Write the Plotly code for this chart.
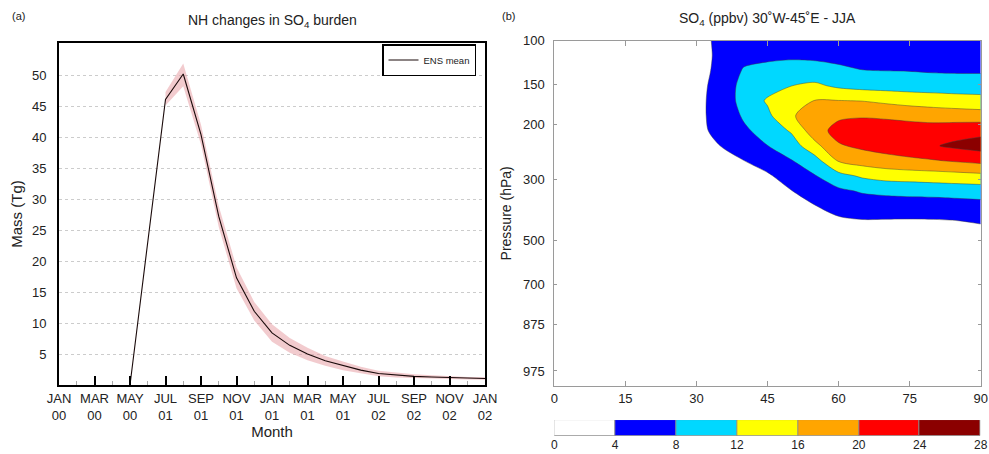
import numpy as np
import plotly.graph_objects as go

# ---------------- Panel (a): NH SO4 burden time series ----------------
# month index counted from JAN 00 (0) to JAN 02 (24)
months = [4, 5, 6, 7, 8, 9, 10, 11, 12, 13, 14, 15, 16, 17, 18, 19, 20, 21, 22, 23, 24]
ens_mean = [0.0, 23.0, 46.1, 50.2, 40.4, 27.2, 17.3, 11.9, 8.4, 6.4, 5.0, 3.9, 3.1,
            2.4, 1.85, 1.6, 1.4, 1.3, 1.2, 1.1, 1.05]
# ensemble envelope (min / max of members)
band_months = [6, 7, 8, 9, 10, 11, 12, 13, 14, 15, 16, 17, 18, 19, 20, 21, 22, 23, 24]
ens_max = [47.3, 51.9, 42.0, 28.9, 19.0, 13.4, 9.8, 7.6, 6.0, 4.7, 3.8, 2.95, 2.3,
           2.0, 1.72, 1.57, 1.42, 1.3, 1.25]
ens_min = [45.1, 48.2, 38.8, 25.5, 15.6, 10.4, 7.0, 5.2, 4.0, 3.1, 2.4, 1.85, 1.4,
           1.2, 1.08, 1.03, 0.98, 0.9, 0.85]

month_ticks = [0, 2, 4, 6, 8, 10, 12, 14, 16, 18, 20, 22, 24]
month_labels = ["JAN<br>00", "MAR<br>00", "MAY<br>00", "JUL<br>01", "SEP<br>01",
                "NOV<br>01", "JAN<br>01", "MAR<br>01", "MAY<br>01", "JUL<br>02",
                "SEP<br>02", "NOV<br>02", "JAN<br>02"]
mass_ticks = [5, 10, 15, 20, 25, 30, 35, 40, 45, 50]

# ---------------- Panel (b): SO4 (ppbv) latitude-pressure section ----------------
latitudes = [0, 5, 10, 15, 20, 25, 30, 35, 40, 45, 50, 55, 60, 65, 70, 75, 80, 85, 90]
# model level pressures (hPa), top to bottom
level_hpa = [100, 117, 134, 151, 169, 188, 209, 236, 263, 291, 332, 382, 431, 480,
             540, 611, 682, 750, 817, 880, 911, 943, 975, 1000]
so4_ppbv = [
    [0.4, 0.5, 0.7, 1.0, 1.4, 2.0, 3.0, 4.6, 5.4, 5.6, 5.8, 5.6, 5.3, 5.0, 4.8, 4.6, 4.4, 4.3, 4.3],
    [0.4, 0.5, 0.7, 1.0, 1.4, 2.0, 3.0, 4.5, 6.8, 7.3, 7.4, 7.2, 6.9, 6.55, 6.4, 6.25, 6.0, 5.9, 5.9],
    [0.4, 0.5, 0.7, 1.0, 1.4, 2.1, 3.1, 4.6, 8.4, 9.0, 9.6, 9.6, 8.8, 8.1, 7.98, 7.9, 7.65, 7.55, 7.55],
    [0.4, 0.5, 0.7, 1.0, 1.5, 2.2, 3.2, 4.9, 9.5, 10.7, 11.95, 12.7, 11.3, 10.6, 10.4, 10.2, 10.1, 10.0, 10.0],
    [0.4, 0.5, 0.7, 1.1, 1.5, 2.3, 3.3, 5.0, 9.6, 12.4, 14.8, 16.1, 16.1, 15.9, 15.2, 14.55, 14.1, 13.7, 13.4],
    [0.4, 0.5, 0.7, 1.1, 1.5, 2.3, 3.3, 5.0, 8.5, 11.2, 15.4, 18.6, 19.3, 19.6, 19.3, 18.8, 18.4, 18.1, 17.8],
    [0.4, 0.5, 0.7, 1.0, 1.5, 2.2, 3.2, 4.8, 7.3, 9.6, 12.4, 18.3, 21.4, 22.4, 22.3, 22.0, 21.8, 22.4, 22.9],
    [0.4, 0.5, 0.7, 1.0, 1.4, 2.0, 2.9, 4.0, 5.7, 7.95, 10.0, 14.8, 19.6, 20.8, 21.6, 21.8, 23.7, 24.8, 25.6],
    [0.3, 0.4, 0.6, 0.9, 1.3, 1.8, 2.6, 3.3, 3.95, 5.7, 7.8, 10.4, 16.3, 17.7, 18.6, 19.4, 19.7, 20.4, 21.1],
    [0.3, 0.4, 0.6, 0.9, 1.2, 1.6, 2.2, 2.7, 3.2, 3.5, 5.8, 7.8, 10.7, 12.6, 13.6, 13.9, 14.3, 14.6, 15.0],
    [0.3, 0.4, 0.5, 0.8, 1.1, 1.4, 1.9, 2.2, 2.5, 2.7, 3.9, 5.9, 7.3, 8.4, 8.9, 9.15, 9.3, 9.6, 9.8],
    [0.3, 0.3, 0.5, 0.7, 1.0, 1.2, 1.6, 1.8, 2.0, 2.2, 2.8, 3.9, 5.4, 6.0, 6.1, 6.2, 6.25, 6.4, 6.7],
    [0.2, 0.3, 0.4, 0.6, 0.8, 1.0, 1.3, 1.5, 1.6, 1.8, 2.2, 2.7, 3.4, 3.8, 3.75, 3.7, 3.75, 3.95, 4.4],
    [0.2, 0.3, 0.4, 0.5, 0.7, 0.9, 1.1, 1.2, 1.3, 1.4, 1.6, 1.8, 1.9, 2.1, 2.1, 2.1, 2.2, 2.3, 2.5],
    [0.2, 0.2, 0.3, 0.4, 0.6, 0.7, 0.9, 1.0, 1.1, 1.1, 1.2, 1.3, 1.4, 1.5, 1.5, 1.5, 1.6, 1.6, 1.7],
    [0.2, 0.2, 0.3, 0.4, 0.5, 0.6, 0.7, 0.8, 0.9, 0.9, 1.0, 1.0, 1.1, 1.1, 1.2, 1.2, 1.2, 1.3, 1.3],
    [0.1, 0.2, 0.2, 0.3, 0.4, 0.5, 0.6, 0.7, 0.7, 0.8, 0.8, 0.8, 0.9, 0.9, 0.9, 1.0, 1.0, 1.0, 1.0],
    [0.1, 0.2, 0.2, 0.3, 0.4, 0.4, 0.5, 0.6, 0.6, 0.7, 0.7, 0.7, 0.8, 0.8, 0.8, 0.8, 0.8, 0.9, 0.9],
    [0.1, 0.1, 0.2, 0.3, 0.3, 0.4, 0.5, 0.5, 0.6, 0.6, 0.6, 0.6, 0.7, 0.7, 0.7, 0.7, 0.7, 0.8, 0.8],
    [0.1, 0.1, 0.2, 0.2, 0.3, 0.4, 0.4, 0.5, 0.5, 0.5, 0.6, 0.6, 0.6, 0.6, 0.6, 0.6, 0.7, 0.7, 0.7],
    [0.1, 0.1, 0.2, 0.2, 0.3, 0.3, 0.4, 0.4, 0.5, 0.5, 0.5, 0.5, 0.6, 0.6, 0.6, 0.6, 0.6, 0.6, 0.6],
    [0.1, 0.1, 0.1, 0.2, 0.3, 0.3, 0.4, 0.4, 0.4, 0.5, 0.5, 0.5, 0.5, 0.5, 0.5, 0.6, 0.6, 0.6, 0.6],
    [0.1, 0.1, 0.1, 0.2, 0.2, 0.3, 0.3, 0.4, 0.4, 0.4, 0.5, 0.5, 0.5, 0.5, 0.5, 0.5, 0.5, 0.5, 0.5],
    [0.1, 0.1, 0.1, 0.2, 0.2, 0.3, 0.3, 0.3, 0.4, 0.4, 0.4, 0.4, 0.5, 0.5, 0.5, 0.5, 0.5, 0.5, 0.5],
]
pressure_labels = [100, 150, 200, 300, 500, 700, 875, 975]
lat_ticks = [0, 15, 30, 45, 60, 75, 90]
so4_levels = [0, 4, 8, 12, 16, 20, 24, 28]
band_colors = ["#FFFFFF", "#0000FF", "#00D8FF", "#FFFF00", "#FFA500", "#FF0000", "#8B0000"]

FONT = "Liberation Sans, Arial, sans-serif"
TXT = "#222222"

# vertical coordinate = model level number; label positions follow the level pressures
level_index = np.arange(len(level_hpa))
label_pos = np.interp(pressure_labels, level_hpa, level_index)

fig = go.Figure()

# ensemble envelope
fig.add_trace(go.Scatter(
    x=band_months + band_months[::-1], y=ens_max + ens_min[::-1],
    fill="toself", fillcolor="rgba(232,160,165,0.55)", line=dict(width=0),
    hoverinfo="skip", showlegend=False, xaxis="x", yaxis="y"))
fig.add_trace(go.Scatter(
    x=months, y=ens_mean, mode="lines", name="ENS mean",
    line=dict(color="#1a0a0a", width=1.1), xaxis="x", yaxis="y"))

# discrete colour bands; each band is sampled at its centre
ncol = len(band_colors)
colorscale = [[k / (ncol - 1), c] for k, c in enumerate(band_colors)]
step = so4_levels[1] - so4_levels[0]
fig.add_trace(go.Contour(
    x=latitudes, y=level_index, z=so4_ppbv,
    autocontour=False,
    contours=dict(start=so4_levels[1], end=so4_levels[-2], size=step, coloring="fill"),
    colorscale=colorscale, showscale=False,
    line=dict(width=0.6, color="rgba(60,60,60,0.75)", smoothing=0.8),
    xaxis="x2", yaxis="y2", hoverinfo="skip", showlegend=False))

# colour key: one cell per contour interval
band_mid = [(a + b) / 2 for a, b in zip(so4_levels[:-1], so4_levels[1:])]
fig.add_trace(go.Bar(
    x=band_mid, y=[1] * len(band_mid), width=[step] * len(band_mid),
    marker=dict(color=band_colors, line=dict(color="#8a8a8a", width=0.8)),
    xaxis="x3", yaxis="y3", hoverinfo="skip", showlegend=False))

fig.update_layout(
    width=989, height=454,
    margin=dict(l=0, r=0, t=0, b=0, autoexpand=False),
    paper_bgcolor="white", plot_bgcolor="white",
    font=dict(family=FONT, color=TXT),
    bargap=0,
    showlegend=True,
    legend=dict(x=476 / 989, xanchor="right", y=1 - 44 / 454, yanchor="top",
                bgcolor="white", bordercolor="black", borderwidth=1.5,
                font=dict(family=FONT, size=9.5, color=TXT),
                itemwidth=30, tracegroupgap=0),
    xaxis=dict(domain=[59 / 989, 485 / 989], anchor="y", range=[0, 24], automargin=False,
               tickmode="array", tickvals=month_ticks, ticktext=month_labels,
               ticks="inside", ticklen=9, tickwidth=2, tickcolor="black",
               minor=dict(tickmode="linear", tick0=0, dtick=1, ticks="inside",
                          ticklen=4, tickwidth=1, tickcolor="#aaaaaa"),
               showgrid=False, zeroline=False,
               showline=True, linecolor="black", linewidth=2, mirror=True,
               tickfont=dict(size=13, color=TXT),
               title=dict(text="Month", font=dict(size=15, color=TXT), standoff=2)),
    yaxis=dict(domain=[1 - 385 / 454, 1 - 43 / 454], anchor="x", range=[0, 55.2],
               automargin=False,
               tickmode="array", tickvals=mass_ticks, ticks="",
               ticklabelstandoff=8,
               showgrid=True, gridcolor="#cccccc", griddash="dot", gridwidth=1,
               zeroline=False,
               showline=True, linecolor="black", linewidth=2, mirror=True,
               tickfont=dict(size=13, color=TXT),
               title=dict(text="Mass (Tg)", font=dict(size=15, color=TXT), standoff=6)),
    xaxis2=dict(domain=[554.3 / 989, 980.7 / 989], anchor="y2", range=[0, 90],
                automargin=False,
                tickmode="array", tickvals=lat_ticks,
                ticks="inside", ticklen=5, tickcolor="#999999",
                showgrid=False, zeroline=False,
                showline=True, linecolor="#9a9a9a", linewidth=1, mirror="ticks",
                tickfont=dict(size=13, color=TXT)),
    yaxis2=dict(domain=[1 - 386 / 454, 1 - 40.7 / 454], anchor="x2",
                range=[level_index[-1], 0], automargin=False,
                tickmode="array", tickvals=label_pos, ticktext=[str(p) for p in pressure_labels],
                ticks="inside", ticklen=3, tickcolor="#999999",
                ticklabelstandoff=6,
                showgrid=True, gridcolor="#cccccc", griddash="dot", gridwidth=1,
                zeroline=False,
                showline=True, linecolor="#9a9a9a", linewidth=1, mirror="ticks",
                tickfont=dict(size=13, color=TXT),
                title=dict(text="Pressure (hPa)", font=dict(size=14, color=TXT), standoff=8)),
    xaxis3=dict(domain=[554.3 / 989, 980.7 / 989], anchor="y3",
                range=[so4_levels[0], so4_levels[-1]], automargin=False,
                tickmode="array", tickvals=so4_levels, ticks="",
                showgrid=False, zeroline=False, showline=False,
                tickfont=dict(size=12, color=TXT)),
    yaxis3=dict(domain=[1 - 436 / 454, 1 - 420 / 454], anchor="x3", range=[0, 1],
                automargin=False, showticklabels=False, ticks="",
                showgrid=False, zeroline=False, showline=False),
    annotations=[
        dict(text="(a)", x=10 / 989, y=1 - 16 / 454, xref="paper", yref="paper",
             xanchor="left", yanchor="middle", showarrow=False,
             font=dict(size=11, color=TXT)),
        dict(text="NH changes in SO<sub>4</sub> burden", x=272 / 989, y=1 - 21 / 454,
             xref="paper", yref="paper", xanchor="center", yanchor="middle",
             showarrow=False, font=dict(size=14, color=TXT)),
        dict(text="(b)", x=500 / 989, y=1 - 16 / 454, xref="paper", yref="paper",
             xanchor="left", yanchor="middle", showarrow=False,
             font=dict(size=11, color=TXT)),
        dict(text="SO<sub>4</sub> (ppbv) 30˚W-45˚E - JJA", x=767 / 989, y=1 - 19 / 454,
             xref="paper", yref="paper", xanchor="center", yanchor="middle",
             showarrow=False, font=dict(size=14, color=TXT)),
    ],
)

fig.write_html("out.html")
